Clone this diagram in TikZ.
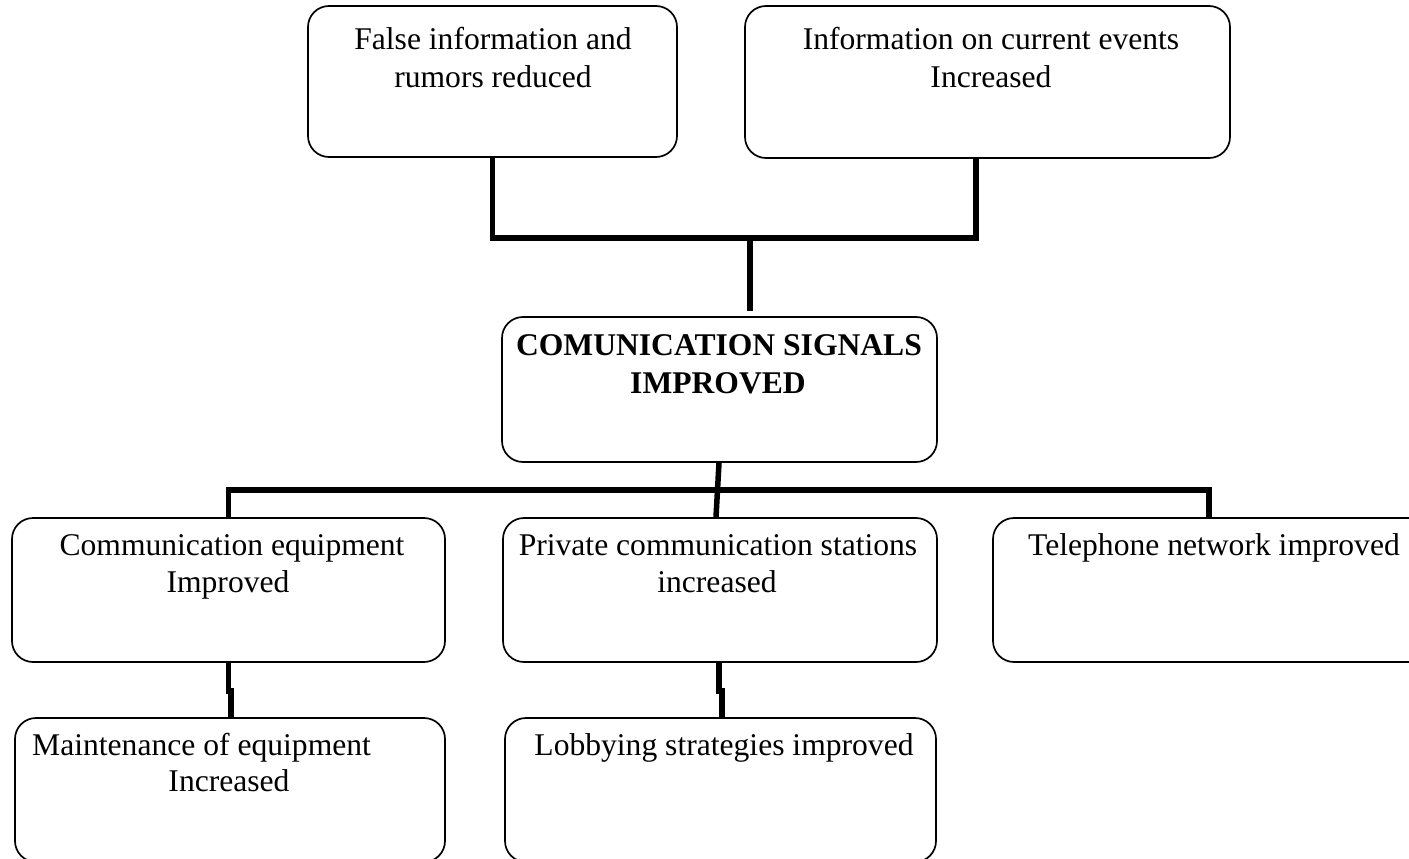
\documentclass[tikz,border=0pt]{standalone}
\usepackage{fontspec}
\setmainfont{Liberation Serif}
\begin{document}
\begin{tikzpicture}[x=1pt,y=-1pt,
  box/.style={draw=black, line width=1.7pt, rounded corners=21pt, rectangle, inner sep=0pt},
  txt/.style={anchor=base, inner sep=0pt, font=\fontsize{31.6}{38}\selectfont},
  btxt/.style={txt, font=\fontsize{31.6}{38}\selectfont\bfseries},
  conn/.style={line width=5.5pt, line join=miter}]
\useasboundingbox (0,0) rectangle (1409,859);
\clip (0,0) rectangle (1409,859);

% boxes
\node[box, minimum width=369pt, minimum height=151pt] (a) at (492.5,81.5) {};
\node[box, minimum width=485pt, minimum height=152pt] (b) at (987.5,82) {};
\node[box, minimum width=435pt, minimum height=145pt] (m) at (719.5,389.5) {};
\node[box, minimum width=433pt, minimum height=144pt] (c) at (228.5,590) {};
\node[box, minimum width=434pt, minimum height=144pt] (d) at (720,590) {};
\node[box, minimum width=442pt, minimum height=144pt] (e) at (1214,590) {};
\node[box, minimum width=430pt, minimum height=144pt] (f) at (230,790) {};
\node[box, minimum width=431pt, minimum height=144pt] (g) at (720.5,790) {};

% labels
\node[txt] (a1) at (493,50) {False information and};
\node[txt] (a2) at (493,88) {rumors reduced};
\node[txt] (b1) at (991,50) {Information on current events};
\node[txt] (b2) at (991,88) {Increased};
\node[btxt] (m1) at (719,355) {COMUNICATION SIGNALS};
\node[btxt] (m2) at (718,393) {IMPROVED};
\node[txt] (c1) at (232,555) {Communication equipment};
\node[txt] (c2) at (228,592) {Improved};
\node[txt] (d1) at (718,555) {Private communication stations};
\node[txt] (d2) at (717,592) {increased};
\node[txt] (e1) at (1214,555) {Telephone network improved};
\node[txt, anchor=base west] (f1) at (32,755) {Maintenance of equipment};
\node[txt] (f2) at (229,791) {Increased};
\node[txt] (g1) at (724,755) {Lobbying strategies improved};

% connectors, upper tier
\coordinate (jt) at (750,238);
\draw[conn] (a.south) |- (jt) -| ([xshift=-11.5pt]b.south);
\draw[conn] (jt) -- ([yshift=5pt]jt |- m.north);

% connectors, middle tier
\coordinate (jm) at (717.5,490);
\draw[conn] (c.north) |- (jm) -| ([xshift=-5pt]e.north);
\draw[conn] ([xshift=-0.5pt]m.south) -- ([xshift=-4pt]d.north);

% connectors, lower tier
\draw[conn] (c.south) -- ++(0,28) -- ++(2.5,0) -- ([xshift=1pt]f.north);
\draw[conn] ([xshift=-1pt]d.south) -- ++(0,28) -- ++(3,0) -- ([xshift=1.5pt]g.north);
\end{tikzpicture}
\end{document}
